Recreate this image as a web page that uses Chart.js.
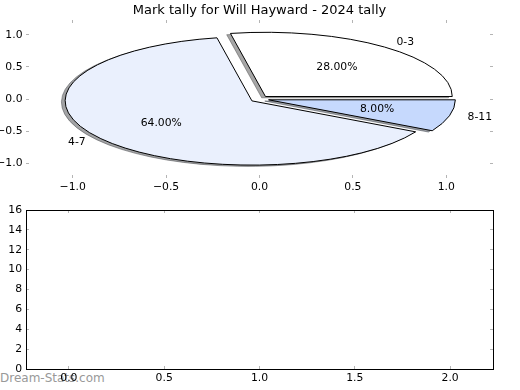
<!DOCTYPE html>
<html>
<head>
<meta charset="utf-8">
<script src="https://cdn.jsdelivr.net/npm/chart.js@4.4.1/dist/chart.umd.min.js"></script>
<style>
  html, body { margin: 0; padding: 0; background: #fff; }
  #wrap { position: relative; width: 520px; height: 390px; }
  canvas { position: absolute; left: 0; }
  #pieCanvas { top: 0; }
  #emptyCanvas { top: 195px; }
  #mark { position: absolute; left: 0; top: 371px; font: 12px "DejaVu Sans", sans-serif; color: #999; }
</style>
</head>
<body>
<div id="wrap">
  <div id="mark">Dream-Stats.com</div>
  <canvas id="pieCanvas" width="520" height="195"></canvas>
  <canvas id="emptyCanvas" width="520" height="195"></canvas>
</div>
<script>
const chartTitle = "Mark tally for Will Hayward - 2024 tally";
const tallyLabels = ["0-3", "4-7", "8-11"];
const tallyShares = [28, 64, 8];
const sliceColors = ["#ffffff", "#eaf0fd", "#c6d9fd"];
const explode = [0.05, 0.05, 0.05];
const pieTicks = [-1, -0.5, 0, 0.5, 1];
const emptyXTicks = [0, 0.5, 1, 1.5, 2];
const emptyYTicks = [0, 2, 4, 6, 8, 10, 12, 14, 16];

Chart.defaults.font.family = "'DejaVu Sans', sans-serif";
Chart.defaults.font.size = 10.8;
Chart.defaults.color = "#000";

const tickGrey = "#b4b4b4";
const minus = v => v.toFixed(1).replace("-", "\u2212");

// matplotlib-like axis: inward grey ticks, fixed size so the plot area lines up
function axis(pos, min, max, ticks, size, opts) {
    const horiz = pos === "top" || pos === "bottom";
    return {
        type: "linear",
        position: pos,
        min: min,
        max: max,
        afterBuildTicks: s => { s.ticks = ticks.map(v => ({ value: v })); },
        afterFit: s => { if (horiz) s.height = size; else s.width = size; },
        border: opts.border,
        grid: { drawOnChartArea: false, drawTicks: true, tickLength: -3, color: tickGrey, lineWidth: 1 },
        ticks: {
            display: pos === "bottom" || pos === "left",
            padding: opts.pad,
            callback: opts.fmt
        }
    };
}

// shadow colour like matplotlib: 0.3 * face colour at alpha 0.5
function shadowOf(hex) {
    const n = parseInt(hex.slice(1), 16);
    const r = Math.round(((n >> 16) & 255) * 0.3), g = Math.round(((n >> 8) & 255) * 0.3), b = Math.round((n & 255) * 0.3);
    return `rgba(${r},${g},${b},0.5)`;
}

// squash the round Chart.js pie into the data ellipse of the x/y scales
const ellipsePie = {
    id: "ellipsePie",
    beforeDatasetsDraw(chart) {
        const ctx = chart.ctx;
        const arcs = chart.getDatasetMeta(0).data;
        const xs = chart.scales.x, ys = chart.scales.y;
        const ox = xs.getPixelForValue(0), oy = ys.getPixelForValue(0);
        const sx = xs.getPixelForValue(1) - ox, sy = oy - ys.getPixelForValue(1);
        const dpr = chart.currentDevicePixelRatio;
        const place = (arc, dx, dy) => {
            const R = arc.outerRadius;
            ctx.translate(ox, oy);
            ctx.scale(sx / R, -sy / R);
            ctx.translate(dx * R - arc.x, dy * R - arc.y);
        };
        const stroke = ctx.stroke;
        ctx.stroke = function () {
            this.save();
            this.setTransform(dpr, 0, 0, dpr, 0, 0);
            stroke.call(this);
            this.restore();
        };
        arcs.forEach((arc, i) => {
            const mid = (arc.startAngle + arc.endAngle) / 2;
            const opts = arc.options;
            const sh = shadowOf(sliceColors[i]);
            arc.options = Object.assign({}, opts, { backgroundColor: sh, borderColor: sh });
            ctx.save();
            place(arc, explode[i] * Math.cos(mid) - 0.02, explode[i] * Math.sin(mid) - 0.02);
            arc.draw(ctx);
            ctx.restore();
            arc.options = opts;
        });
        arcs.forEach((arc, i) => {
            const mid = (arc.startAngle + arc.endAngle) / 2;
            ctx.save();
            place(arc, explode[i] * Math.cos(mid), explode[i] * Math.sin(mid));
            arc.draw(ctx);
            ctx.restore();
        });
        delete ctx.stroke;
        return false;
    },
    // labels go here: afterDatasetsDraw is skipped when the draw above is cancelled
    afterDraw(chart) {
        const ctx = chart.ctx;
        const arcs = chart.getDatasetMeta(0).data;
        const xs = chart.scales.x, ys = chart.scales.y;
        const total = tallyShares.reduce((a, b) => a + b, 0);
        ctx.save();
        ctx.font = "10.8px 'DejaVu Sans'";
        ctx.fillStyle = "#000";
        ctx.textBaseline = "middle";
        arcs.forEach((arc, i) => {
            const mid = (arc.startAngle + arc.endAngle) / 2;
            const c = Math.cos(mid), s = Math.sin(mid);
            const lx = (explode[i] + 1.1) * c, ly = (explode[i] + 1.1) * s;
            ctx.textAlign = lx > 0 ? "left" : "right";
            ctx.fillText(tallyLabels[i], xs.getPixelForValue(lx), ys.getPixelForValue(ly));
            const px = (explode[i] + 0.6) * c, py = (explode[i] + 0.6) * s;
            ctx.textAlign = "center";
            ctx.fillText((tallyShares[i] / total * 100).toFixed(2) + "%", xs.getPixelForValue(px), ys.getPixelForValue(py));
        });
        ctx.restore();
    }
};

const noBorder = { display: false };
new Chart(document.getElementById("pieCanvas"), {
    type: "pie",
    data: {
        labels: tallyLabels,
        datasets: [{
            data: tallyShares,
            backgroundColor: sliceColors,
            borderColor: "#000",
            borderWidth: 1,
            borderJoinStyle: "miter",
            radius: 100
        }]
    },
    options: {
        responsive: false,
        animation: false,
        events: [],
        rotation: 90,
        layout: { padding: { left: 0, right: 27, top: 0, bottom: 0 } },
        plugins: {
            legend: { display: false },
            tooltip: { enabled: false },
            title: {
                display: true,
                text: chartTitle,
                fullSize: false,
                color: "#000",
                font: { size: 13, weight: "normal" },
                padding: { top: 2.4, bottom: 2 }
            }
        },
        scales: {
            x: axis("bottom", -1.25, 1.25, pieTicks, 17, { border: noBorder, pad: 6, fmt: minus }),
            x2: axis("top", -1.25, 1.25, pieTicks, 0, { border: noBorder, pad: 0 }),
            y: axis("left", -1.23, 1.23, pieTicks, 26, { border: noBorder, pad: 6.5, fmt: minus }),
            y2: axis("right", -1.23, 1.23, pieTicks, 0, { border: noBorder, pad: 0 })
        }
    },
    plugins: [ellipsePie]
});

const frame = { display: true, color: "#000", width: 1 };
new Chart(document.getElementById("emptyCanvas"), {
    type: "scatter",
    data: { datasets: [{ data: [] }] },
    options: {
        responsive: false,
        animation: false,
        events: [],
        layout: { padding: { left: 0, right: 27, top: 15, bottom: 0 } },
        plugins: { legend: { display: false }, tooltip: { enabled: false } },
        scales: {
            x: axis("bottom", -0.225, 2.225, emptyXTicks, 21, { border: frame, pad: 6, fmt: minus }),
            x2: axis("top", -0.225, 2.225, emptyXTicks, 0, { border: frame, pad: 0 }),
            y: axis("left", 0, 16, emptyYTicks, 26, { border: frame, pad: 7, fmt: v => String(v) }),
            y2: axis("right", 0, 16, emptyYTicks, 0, { border: frame, pad: 0 })
        }
    }
});
</script>
</body>
</html>
